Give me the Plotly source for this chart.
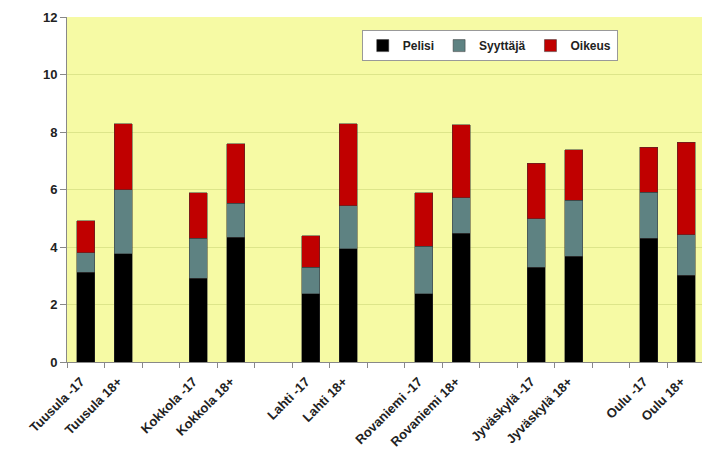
import plotly.graph_objects as go

categories = ["Tuusula -17", "Tuusula 18+", " ",
              "Kokkola -17", "Kokkola 18+", "  ",
              "Lahti -17", "Lahti 18+", "   ",
              "Rovaniemi -17", "Rovaniemi 18+", "    ",
              "Jyväskylä -17", "Jyväskylä 18+", "     ",
              "Oulu -17", "Oulu 18+"]

pelisi   = [3.13, 3.76, None, 2.92, 4.34, None, 2.37, 3.94, None, 2.37, 4.48, None, 3.30, 3.67, None, 4.31, 3.01]
syyttaja = [0.67, 2.24, None, 1.39, 1.19, None, 0.93, 1.50, None, 1.65, 1.23, None, 1.68, 1.95, None, 1.60, 1.41]
oikeus   = [1.12, 2.28, None, 1.57, 2.06, None, 1.10, 2.84, None, 1.86, 2.55, None, 1.94, 1.77, None, 1.56, 3.23]

series = [("Pelisi", pelisi, "#000000"),
          ("Syyttäjä", syyttaja, "#5E8282"),
          ("Oikeus", oikeus, "#C00000")]

y_ticks = [0, 2, 4, 6, 8, 10, 12]

FONT = "Liberation Sans, Arial, sans-serif"

fig = go.Figure()
for name, vals, col in series:
    fig.add_trace(go.Bar(x=categories, y=vals, name=name,
                         marker=dict(color=col, line=dict(color="#333333", width=0.5)),
                         width=0.48))

# page body has an 8px default margin; size the figure to fill the rest of the window
fig.update_layout(
    barmode="stack",
    width=702, height=447,
    margin=dict(l=59, r=5, t=9, b=93, autoexpand=False),
    paper_bgcolor="white",
    plot_bgcolor="#F6FAA4",
    font=dict(family=FONT, color="#222222"),
    legend=dict(orientation="h", x=0.462, y=0.962, xanchor="left", yanchor="top",
                bgcolor="white", bordercolor="#999999", borderwidth=1,
                font=dict(size=12, family=FONT, weight="bold"),
                traceorder="normal", itemwidth=30, tracegroupgap=0),
    showlegend=True,
)
fig.update_xaxes(type="category", categoryorder="array", categoryarray=categories,
                 tickson="boundaries", ticks="outside", ticklen=5, tickcolor="#888888",
                 showline=True, linecolor="#888888", linewidth=1, automargin=False,
                 tickangle=-45, tickfont=dict(size=13, family=FONT, weight="bold"),
                 ticklabelstandoff=6, ticklabelshift=-5,
                 showgrid=False)
fig.update_yaxes(range=[0, 12], tickvals=y_ticks, ticks="outside", ticklen=6, tickcolor="#888888",
                 showline=True, linecolor="#888888", linewidth=1, automargin=False,
                 gridcolor="#DDE58A", gridwidth=1, zeroline=False,
                 tickfont=dict(size=13, family=FONT, weight="bold"))

fig.write_html("out.html")
